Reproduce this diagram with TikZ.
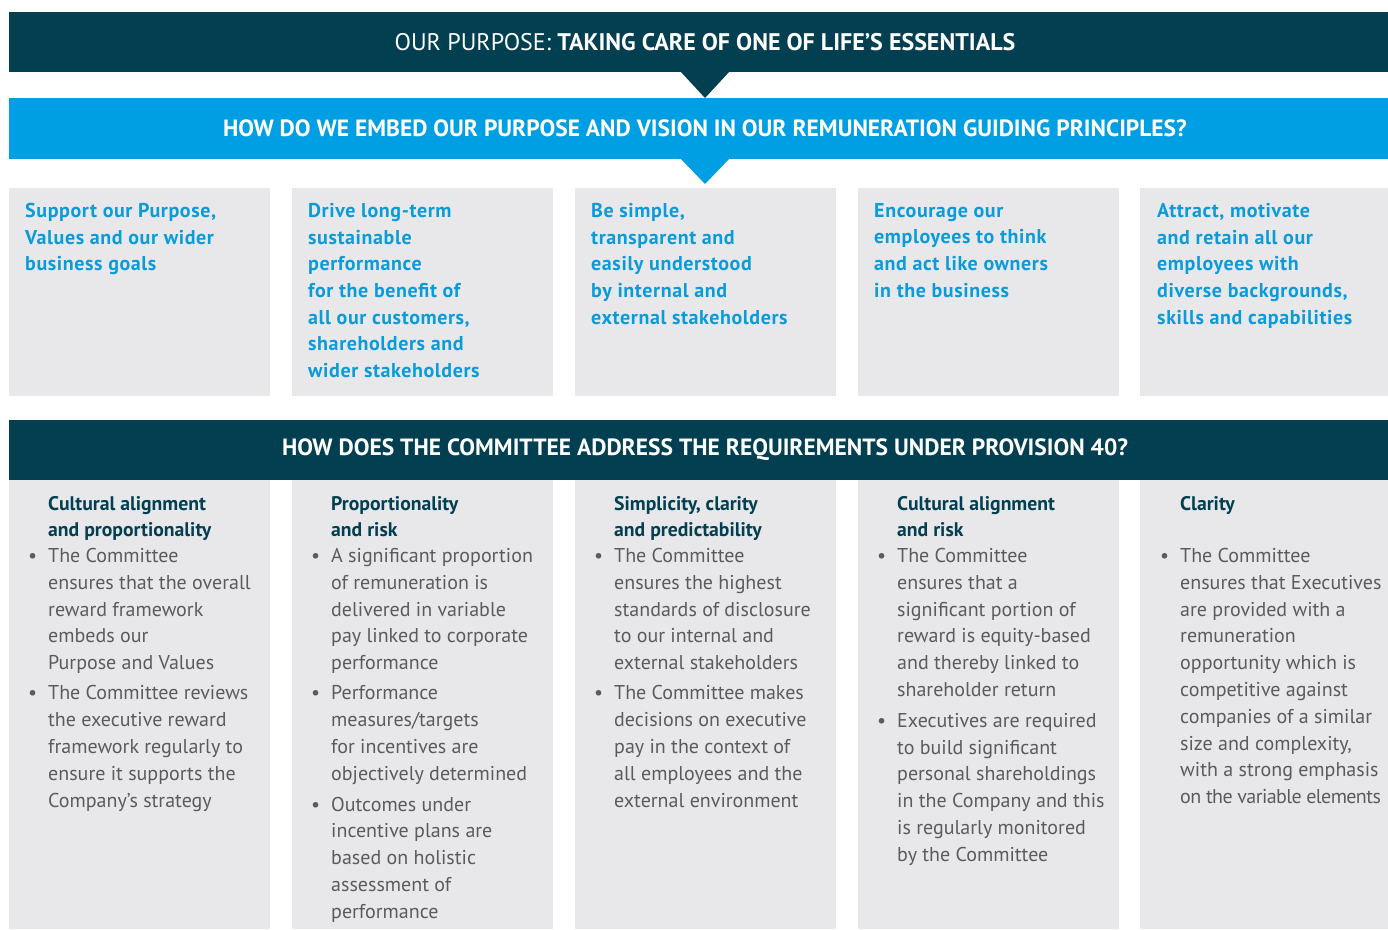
\documentclass[tikz,border=0pt]{standalone}
\usepackage{fontspec}
\setmainfont{PT Sans}
\definecolor{navy}{HTML}{023F51}
\definecolor{sky}{HTML}{009FE3}
\definecolor{skytext}{HTML}{0A9BDB}
\definecolor{panel}{HTML}{E8E8EA}
\definecolor{bodygrey}{HTML}{5A5B5D}
\newcommand\itemdot{\leavevmode\llap{\textbullet\hspace{11pt}}}
\newcommand\firstline{\rule{0pt}{14pt}}

\begin{document}
\begin{tikzpicture}[x=1pt,y=-1pt,
  banner/.style={inner sep=0pt,text=white,font=\fontsize{23.5}{26}\selectfont},
  principle/.style={anchor=north west,inner sep=0pt,align=left,text=skytext,
    font=\fontsize{20}{26.7}\selectfont\bfseries\addfontfeature{LetterSpace=3},
    execute at begin node=\firstline},
  headline/.style={anchor=north west,inner sep=0pt,align=left,text=navy,
    font=\fontsize{19.7}{26.4}\selectfont\bfseries,
    execute at begin node=\firstline},
  bodytext/.style={anchor=north west,inner sep=0pt,align=left,text=bodygrey,
    font=\fontsize{20}{26.8}\selectfont,
    execute at begin node=\firstline}]
\useasboundingbox[fill=white] (0,0) rectangle (1388,929);
% ---- banners with their pointers ----
\fill[navy] (9,12) rectangle (1388,72);
\fill[navy] (680,71) -- (730,71) -- (705,98) -- cycle;
\fill[sky] (9,98) rectangle (1388,159);
\fill[sky] (680,158) -- (730,158) -- (705,184) -- cycle;
\fill[navy] (9,420) rectangle (1388,480);
% ---- grey panels, two rows of five ----
\foreach \x in {9,292,575,858,1140}{
  \fill[panel] (\x,188) rectangle ++(261,208);
  \fill[panel] (\x,480) rectangle ++(261,449);
}
\node[banner,font=\fontsize{24}{26}\selectfont] (purpose) at (705,42)
  {OUR PURPOSE: \textbf{TAKING CARE OF ONE OF LIFE’S ESSENTIALS}};
\node[banner,font=\fontsize{23.5}{26}\selectfont\bfseries] (embed) at (705,128)
  {HOW DO WE EMBED OUR PURPOSE AND VISION IN OUR REMUNERATION GUIDING PRINCIPLES?};
\node[banner,font=\fontsize{23.5}{26}\selectfont\bfseries] (address) at (705,450)
  {HOW DOES THE COMMITTEE ADDRESS THE REQUIREMENTS UNDER PROVISION 40?};
% ---- guiding principles ----
\node[principle] (p1) at (25,203) {Support our Purpose,\\Values and our wider\\business goals};
\node[principle] (p2) at (308,203) {Drive long-term\\sustainable\\performance\\for the benefit of\\all our customers,\\shareholders and\\wider stakeholders};
\node[principle] (p3) at (591,203) {Be simple,\\transparent and\\easily understood\\by internal and\\external stakeholders};
\node[principle] (p4) at (874,203) {Encourage our\\employees to think\\and act like owners\\in the business};
\node[principle] (p5) at (1157,203) {Attract, motivate\\and retain all our\\employees with\\diverse backgrounds,\\skills and capabilities};
% ---- provision 40 headings ----
\node[headline] (h1) at (48,496) {Cultural alignment\\and proportionality};
\node[headline] (h2) at (331,496) {Proportionality\\and risk};
\node[headline] (h3) at (614,496) {Simplicity, clarity\\and predictability};
\node[headline] (h4) at (897,496) {Cultural alignment\\and risk};
\node[headline] (h5) at (1180,496) {Clarity};
% ---- provision 40 answers ----
\node[bodytext] (b1) at (48,548) {\itemdot The Committee\\ensures that the overall\\reward framework\\embeds our\\Purpose and Values\\[3.5pt]\itemdot The Committee reviews\\the executive reward\\framework regularly to\\ensure it supports the\\Company’s strategy};
\node[bodytext] (b2) at (331,548) {\itemdot A significant proportion\\of remuneration is\\delivered in variable\\pay linked to corporate\\performance\\[3.5pt]\itemdot Performance\\measures/targets\\for incentives are\\objectively determined\\[4pt]\itemdot Outcomes under\\incentive plans are\\based on holistic\\assessment of\\performance};
\node[bodytext] (b3) at (614,548) {\itemdot The Committee\\ensures the highest\\standards of disclosure\\to our internal and\\external stakeholders\\[3.5pt]\itemdot The Committee makes\\decisions on executive\\pay in the context of\\all employees and the\\external environment};
\node[bodytext] (b4) at (897,548) {\itemdot The Committee\\ensures that a\\significant portion of\\reward is equity-based\\and thereby linked to\\shareholder return\\[4pt]\itemdot Executives are required\\to build significant\\personal shareholdings\\in the Company and this\\is regularly monitored\\by the Committee};
\node[bodytext] (b5) at (1180,548) {\itemdot The Committee\\ensures that Executives\\are provided with a\\remuneration\\opportunity which is\\competitive against\\companies of a similar\\size and complexity,\\with a strong emphasis\\{\addfontfeature{LetterSpace=-3}on the variable elements}};
\end{tikzpicture}
\end{document}
